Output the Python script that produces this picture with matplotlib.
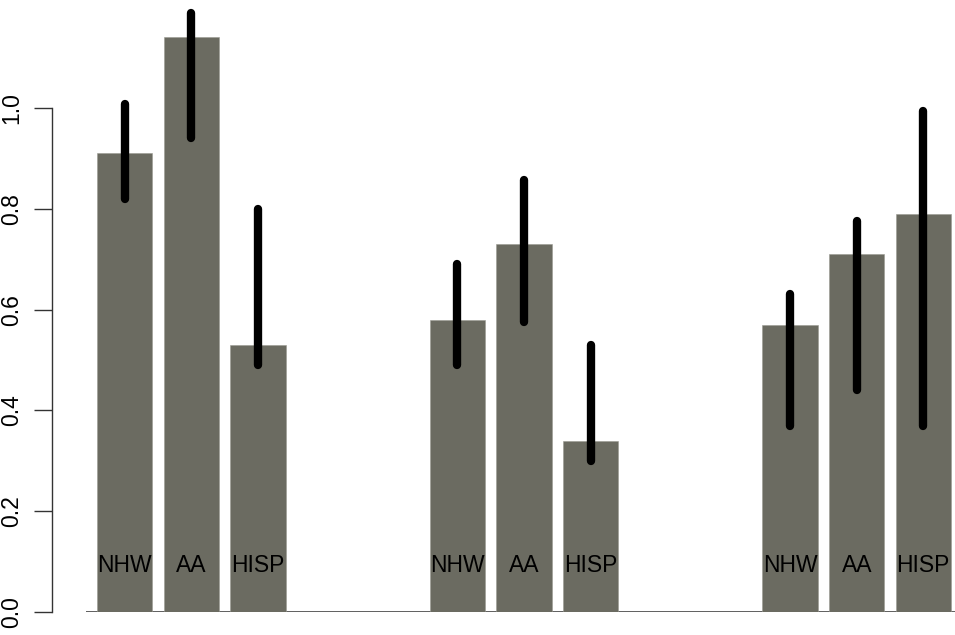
import numpy as np
import matplotlib
matplotlib.use("Agg")
import matplotlib.pyplot as plt

plt.rcParams['font.family'] = ['Liberation Sans', 'DejaVu Sans']

# dados (3 grupos x 3 etnias)
grupos = ["NHW", "AA", "HISP"]
valores = [0.91, 1.14, 0.53,
           0.58, 0.73, 0.34,
           0.57, 0.71, 0.79]
erro_inf = [0.82, 0.94, 0.49,
            0.49, 0.575, 0.30,
            0.37, 0.44, 0.37]
erro_sup = [1.008, 1.188, 0.80,
            0.69, 0.857, 0.53,
            0.63, 0.775, 0.995]
rotulos = grupos * 3
y_ticks = [0.0, 0.2, 0.4, 0.6, 0.8, 1.0]

cor_barra = "#6b6b61"
espaco = 0.2
largura = 1.0
# posicoes no estilo barplot do R (com duas barras vazias entre grupos)
slots = [0, 1, 2, 5, 6, 7, 10, 11, 12]
n_slots = 13
centros = np.array([espaco + s * (largura + espaco) + largura / 2 for s in slots])

W, H = 955, 635
fig = plt.figure(figsize=(W / 100, H / 100), dpi=100)
ax = fig.add_axes([52 / W, (H - 612) / H, 903 / W, 1.2 * 504 / H])

ax.bar(centros, valores, width=largura, color=cor_barra, edgecolor="#9a9a92",
       linewidth=0.4, zorder=2)
ax.vlines(centros, erro_inf, erro_sup, color="black", linewidth=6,
          capstyle="round", zorder=3, clip_on=False)

for c, r in zip(centros, rotulos):
    ax.text(c, 0.092, r, ha="center", va="center", fontsize=16.5, color="black",
            zorder=4)

# linha de base
ax.hlines(0, 0, n_slots * (largura + espaco) + 0.07, color="#444444", linewidth=1.2,
          zorder=1)

ax.set_xlim(-0.612, 15.672)
ax.set_ylim(0, 1.2)

for s in ["top", "right", "bottom"]:
    ax.spines[s].set_visible(False)
ax.spines["left"].set_bounds(0, 1.0)
ax.spines["left"].set_color("#333333")
ax.spines["left"].set_linewidth(1.0)
ax.set_xticks([])
ax.set_yticks(y_ticks)
ax.set_yticklabels([f"{v:.1f}" for v in y_ticks], rotation=90, va="center",
                   fontsize=16.5)
ax.tick_params(axis="y", length=13, width=1.0, color="#333333", pad=8)

fig.savefig("out.png", dpi=100)
